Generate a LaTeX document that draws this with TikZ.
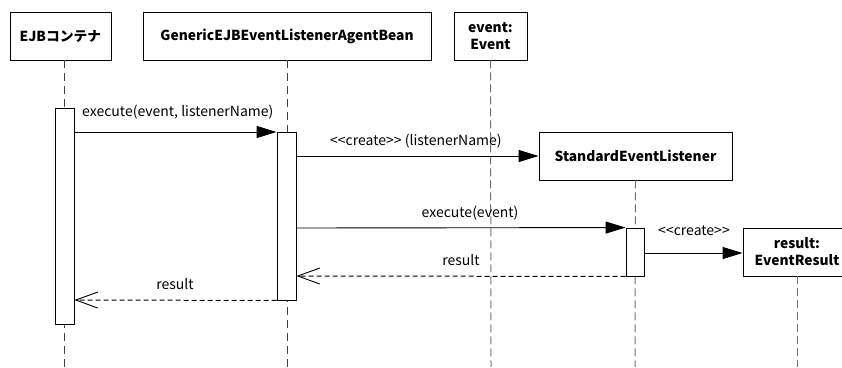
\documentclass[tikz,border=0pt]{standalone}
\usepackage{fontspec}
\setmainfont{Noto Sans CJK JP}
\usetikzlibrary{arrows.meta,calc}
\begin{document}
\begin{tikzpicture}[x=1pt,y=-1pt,
  every node/.style={font=\fontsize{14}{16}\selectfont},
  objbox/.style={draw=black,line width=0.9pt,fill=white,minimum height=48pt,inner sep=0pt,align=center,font=\fontsize{13.8}{17}\selectfont\bfseries},
  actbar/.style={draw=black,line width=0.9pt,fill=white,minimum width=19pt,inner sep=0pt},
  lifeline/.style={draw=black!55,line width=1pt,dash pattern=on 8pt off 4pt},
  darkline/.style={draw=black!75,line width=0.8pt,dash pattern=on 8pt off 5pt},
  msg/.style={draw=black,line width=0.9pt,-{Triangle[length=20pt,width=12pt]}},
  ret/.style={draw=black,line width=1pt,dash pattern=on 5pt off 3pt,-{Straight Barb[length=22pt,width=16pt,line width=0.9pt]}},
  lbl/.style={inner sep=0pt,anchor=base}
]
\useasboundingbox (0,0) rectangle (842,367);
\begin{scope}
\clip (0,0) rectangle (842,367);
% object boxes
\node[objbox,minimum width=101pt] (ejb) at (60.5,36) {EJBコンテナ};
\node[objbox,minimum width=288pt] (gen) at (287,36) {GenericEJBEventListenerAgentBean};
\node[objbox,minimum width=73pt] (ev) at (490.5,36) {event:\\Event};
\node[objbox,minimum width=193pt] (sel) at (635.5,156) {StandardEventListener};
\node[objbox,minimum width=108pt] (res) at (797,252) {result:\\EventResult};
% lifeline ends
\coordinate (ejbE) at (64,367);
\coordinate (genE) at (287,367);
\coordinate (evE) at (491,367);
\coordinate (selE) at (635,367);
\coordinate (resE) at (797,367);
\draw[darkline] (64,60) -- (ejbE);
\draw[darkline] (gen.south) -- (genE);
\draw[lifeline] (ev.south) -- (evE);
\draw[lifeline] (sel.south) -- (selE);
\draw[lifeline] (res.south) -- (resE);
% activation bars
\node[actbar,minimum height=216pt] (ejbA) at (64.5,216) {};
\node[actbar,minimum height=168pt] (genA) at (286.5,216) {};
\node[actbar,minimum height=48pt,minimum width=18pt] (selA) at (635,252) {};
% messages
\draw[msg] (ejbA.east |- 0,132) -- (genA.west |- 0,132);
\node[lbl,anchor=base west] (m1) at (82,116) {execute(event, listenerName)};
\draw[msg] (genA.east |- 0,156) -- (sel.west);
\node[lbl,anchor=base west] (m2) at (330,145) {{<}{<}create{>}{>} (listenerName)};
\draw[msg] (genA.east |- 0,228) -- (selA.north west);
\node[lbl] (m3) at (470,217) {execute(event)};
\draw[msg] (selA.east |- 0,253) -- (res.west |- 0,253);
\node[lbl] (m4) at (694,235) {{<}{<}create{>}{>}};
\draw[ret] (selA.south west) -- (genA.east |- 0,276);
\node[lbl] (m5) at (461,265) {result};
\draw[ret] (genA.south west) -- (ejbA.east |- 0,300);
\node[lbl] (m6) at (175,289) {result};
\end{scope}
\end{tikzpicture}
\end{document}
